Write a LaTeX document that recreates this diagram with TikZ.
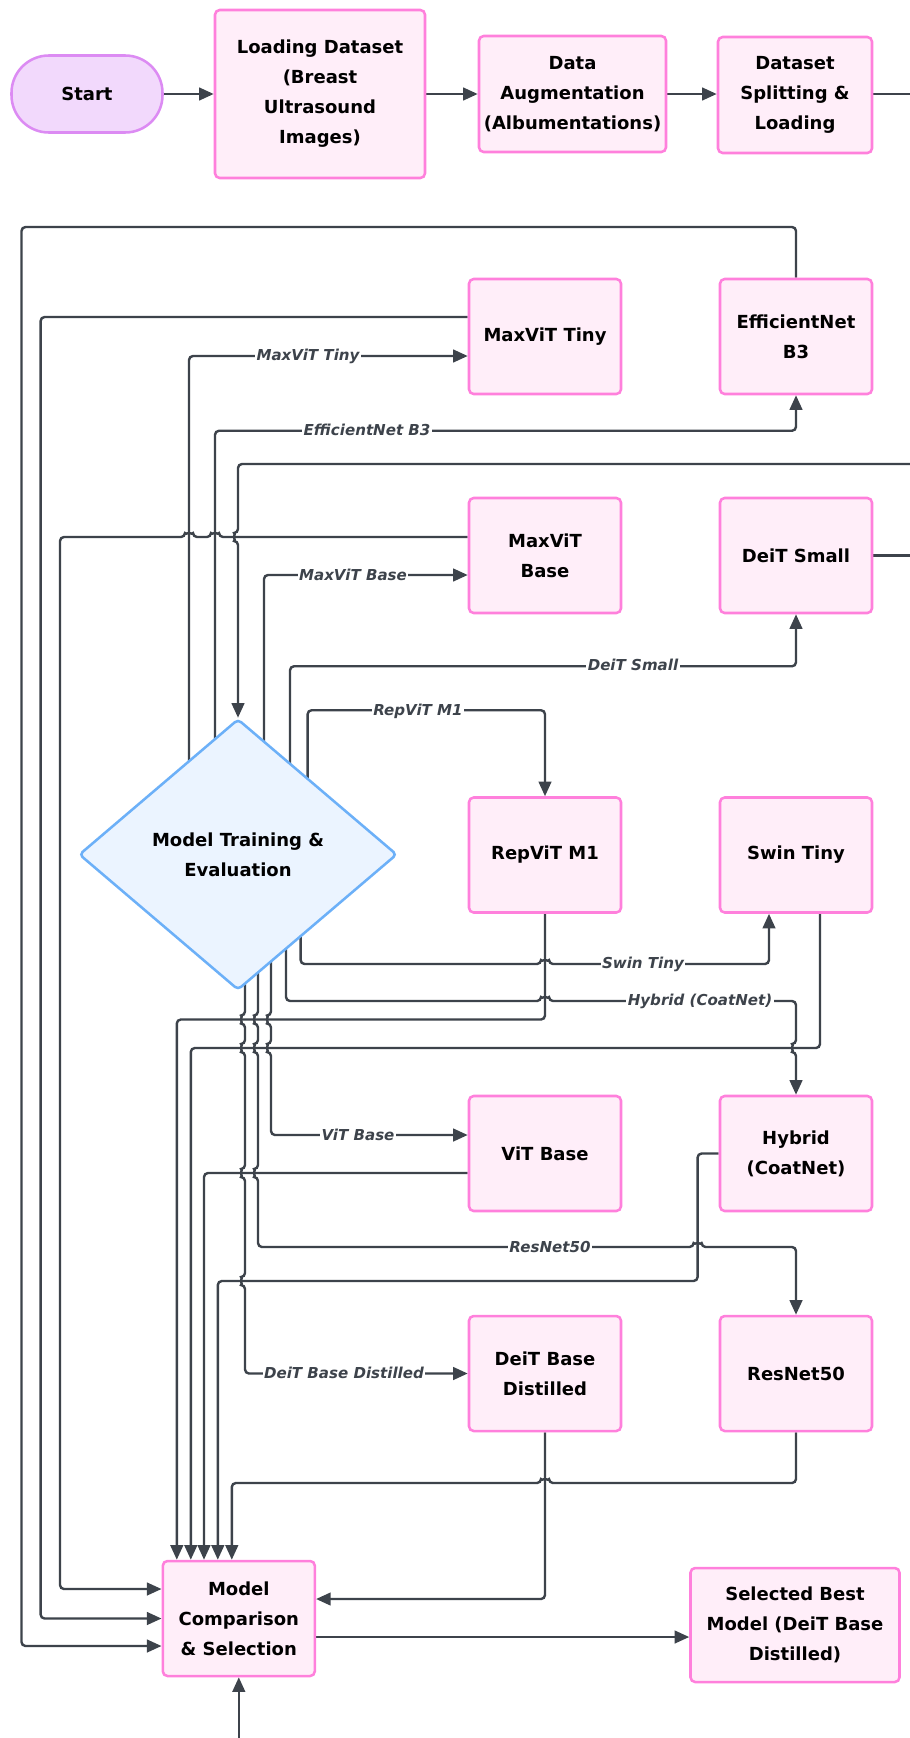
\documentclass[tikz,border=0pt]{standalone}
\usepackage{fontspec}
\setmainfont{DejaVu Sans}
\usetikzlibrary{arrows.meta,calc,shapes.geometric}
\pgfdeclarelayer{bg}
\pgfsetlayers{bg,main}
\definecolor{ln}{HTML}{3D434B}
\definecolor{pinkfill}{HTML}{FFEEF9}
\definecolor{pinkdraw}{HTML}{FF80DC}
\definecolor{startfill}{HTML}{F2D9FC}
\definecolor{startdraw}{HTML}{DC8BF3}
\definecolor{dfill}{HTML}{EBF4FF}
\definecolor{ddraw}{HTML}{6CB0F8}
\newcommand\mybf{\fontsize{13.5}{22.5}\selectfont\bfseries}
\newcommand\mylbl{\fontsize{11.3}{13}\selectfont\bfseries\itshape}
\tikzset{
  box/.style={draw=pinkdraw, fill=pinkfill, line width=1.9pt, rounded corners=3.5pt,
    align=center, font=\mybf, inner sep=0pt, minimum width=114pt, minimum height=86.25pt},
  startbox/.style={draw=startdraw, fill=startfill, line width=1.9pt, rounded corners=28pt,
    font=\mybf, minimum width=113.25pt, minimum height=57.75pt},
  decision/.style={diamond, draw=ddraw, fill=dfill, line width=1.9pt, rounded corners=3pt,
    align=center, font=\mybf, inner sep=0pt, minimum width=238.5pt, minimum height=203.25pt},
  wire/.style={draw=ln, line width=1.8pt, rounded corners=3pt},
  conn/.style={wire, -{Triangle[length=11pt,width=9.5pt]}},
  lbl/.style={fill=white, inner sep=1pt, font=\mylbl, text=ln},
}
\begin{document}
\begin{tikzpicture}[x=0.75pt,y=-0.75pt]
\useasboundingbox (0,0) rectangle (910,1738);
\begin{pgfonlayer}{bg}
\fill[white] (0,0) rectangle (910,1738);
\end{pgfonlayer}

% nodes
\node[startbox] (start) at (87,94) {Start};
\node[box, minimum width=157.5pt, minimum height=126pt] (load) at (320,94) {Loading Dataset\\(Breast\\Ultrasound\\Images)};
\node[box, minimum width=140.25pt, minimum height=87pt] (aug) at (572.5,94) {Data\\Augmentation\\(Albumentations)};
\node[box, minimum width=115.5pt, minimum height=87pt] (split) at (795,95) {Dataset\\Splitting \&\\Loading};

\node[box] (maxtiny) at (545,336.5) {MaxViT Tiny};
\node[box] (effb3) at (796,336.5) {EfficientNet\\B3};
\node[box] (maxbase) at (545,555.5) {MaxViT\\Base};
\node[box] (deits) at (796,555.5) {DeiT Small};
\node[decision] (mte) at (238,854.5) {Model Training \&\\Evaluation};
\node[box] (repvit) at (545,855) {RepViT M1};
\node[box] (swin) at (796,855) {Swin Tiny};
\node[box] (vitb) at (545,1153.5) {ViT Base};
\node[box] (hybrid) at (796,1153.5) {Hybrid\\(CoatNet)};
\node[box] (deitb) at (545,1373.5) {DeiT Base\\Distilled};
\node[box] (resnet) at (796,1373.5) {ResNet50};
\node[box] (mcs) at (238.8,1618.5) {Model\\Comparison\\\& Selection};
\node[box, minimum width=156.75pt, minimum height=85.5pt] (sel) at (795,1625) {Selected Best\\Model (DeiT Base\\Distilled)};

\coordinate (eA) at (935,94);
\coordinate (eB) at (935,464);
\coordinate (eC) at (935,555.5);
\coordinate (eD) at (238.8,1760);

\begin{pgfonlayer}{bg}
% top row
\draw[conn] (start.east) -- (load.west);
\draw[conn] (load.east) -- (aug.west);
\draw[conn] (aug.east) -- (split.west |- aug.east);
\draw[wire] (split.east |- aug.east) -- (eA);
\draw[conn] (eB) -- (238,464) -- (238,533) arc (90:270:3pt) -- (mte.north);

% from training to models
\draw[conn] ($(mte.center)+(-49,0)$) |- ($(maxtiny.west)+(0,19.5)$);
\draw[conn] ($(mte.center)+(-23,0)$) |- ($(effb3.south)+(0,35.5)$) -- (effb3.south);
\draw[conn] ($(mte.center)+(26,0)$) |- ($(maxbase.west)+(0,19.5)$);
\draw[conn] ($(mte.center)+(52,0)$) |- ($(deits.south)+(0,52)$) -- (deits.south);
\draw[conn] ($(mte.center)+(69.6,0)$) |- ($(repvit.north)+(0,-86)$) -- (repvit.north);
\draw[conn] ($(mte.center)+(62.6,0)$) -- (300.6,964) -- (541,964) arc (180:0:3pt) -| ($(swin.south)+(-27,0)$);
\draw[conn] ($(mte.center)+(48,0)$) -- (286,1001) -- (541,1001) arc (180:0:3pt) -- (796,1001) -- (796,1044) arc (90:270:3pt) -- (hybrid.north);
\draw[conn] ($(mte.center)+(33,0)$) -- (271,1015.5) arc (90:270:3pt) -- (271,1044) arc (90:270:3pt) |- ($(vitb.west)+(0,-18.5)$);
\draw[conn] ($(mte.center)+(20,0)$) -- (258,1015.5) arc (90:270:3pt) -- (258,1044) arc (90:270:3pt) -- (258,1169) arc (90:270:3pt) -- (258,1247) -- (693.6,1247) arc (180:0:3pt) -| (resnet.north);
\draw[conn] ($(mte.center)+(7,0)$) -- (245,1015.5) arc (90:270:3pt) -- (245,1044) arc (90:270:3pt) -- (245,1169) arc (90:270:3pt) -- (245,1277) arc (90:270:3pt) |- (deitb.west);

% from models to comparison
\draw[conn] (effb3.north) -- (796,227) -- (21.5,227) |- ($(mcs.west)+(0,27.5)$);
\draw[conn] ($(maxtiny.west)+(0,-19.5)$) -- (40.6,317) |- (mcs.west);
\draw[conn] ($(maxbase.west)+(0,-18.5)$) -- (219,537) arc (0:180:3pt) -- (193,537) arc (0:180:3pt) -- (60,537) |- ($(mcs.west)+(0,-29.5)$);
\draw[conn] (repvit.south) -- (545,1019.5) -| ($(mcs.north)+(-62,0)$);
\draw[conn] ($(swin.south)+(24,0)$) -- (820,1048) -| ($(mcs.north)+(-48,0)$);
\draw[conn] ($(vitb.west)+(0,19.5)$) -| ($(mcs.north)+(-34.8,0)$);
\draw[conn] (hybrid.west) -- (697.6,1153.5) -- (697.6,1281) -| ($(mcs.north)+(-21,0)$);
\draw[conn] (resnet.south) -- (796,1483) -- (549,1483) arc (0:180:3pt) -| ($(mcs.north)+(-7,0)$);
\draw[conn] (deitb.south) |- ($(mcs.east)+(0,-19.5)$);
\draw[wire] (deits.east) -- (eC);
\draw[conn] (eD) -- (mcs.south);
\draw[conn] ($(mcs.east)+(0,18.5)$) -- ($(sel.west)+(0,12)$);
\end{pgfonlayer}

% labels
\node[lbl] (lb1) at (308,356) {MaxViT Tiny};
\node[lbl] (lb2) at (367,430) {EfficientNet B3};
\node[lbl] (lb3) at (353,575) {MaxViT Base};
\node[lbl] (lb4) at (633,665) {DeiT Small};
\node[lbl] (lb5) at (418,711) {RepViT M1};
\node[lbl] (lb6) at (643,964) {Swin Tiny};
\node[lbl] (lb7) at (700,1001) {Hybrid (CoatNet)};
\node[lbl] (lb8) at (358,1135) {ViT Base};
\node[lbl] (lb9) at (550,1247) {ResNet50};
\node[lbl] (lb10) at (344,1373) {DeiT Base Distilled};
\end{tikzpicture}
\end{document}
